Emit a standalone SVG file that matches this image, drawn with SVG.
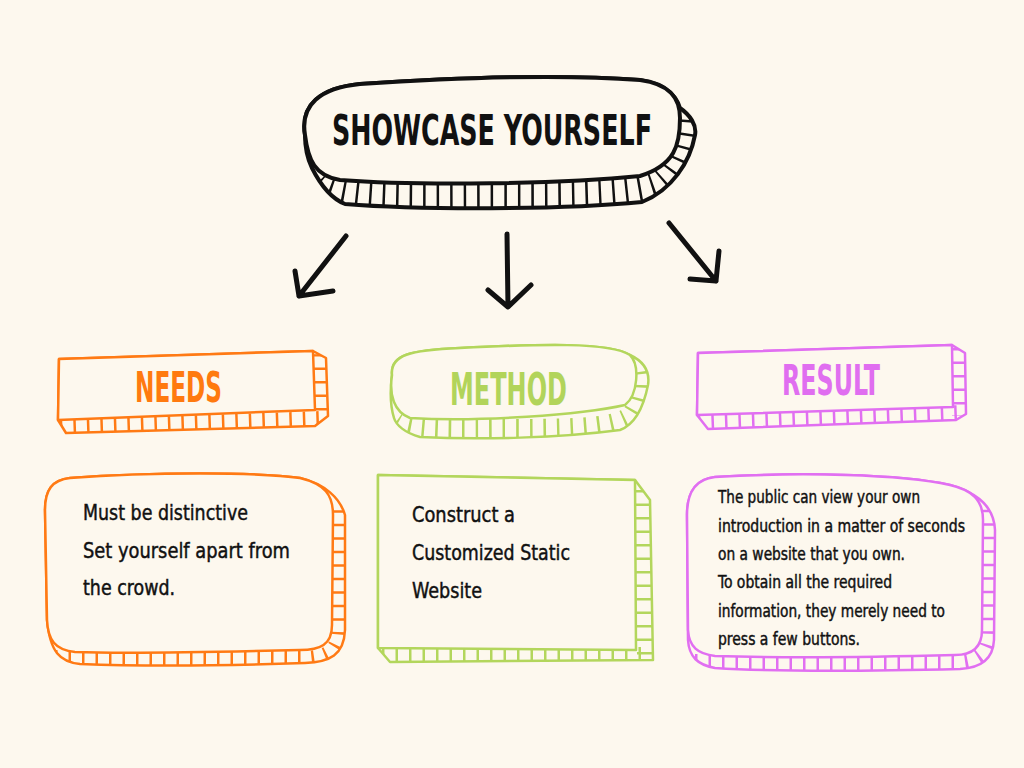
<svg xmlns="http://www.w3.org/2000/svg" width="1024" height="768" viewBox="0 0 1024 768">
<style>
.bg{fill:#fdf8ee}
.face{fill:#fdf8ee;stroke-linejoin:round;stroke-linecap:round}
.hatch{fill:none;stroke-dasharray:2.5 11}
.blk{stroke:#111}
.org{stroke:#ff7a14}
.grn{stroke:#b3d65c}
.mag{stroke:#e16ff1}
.title{font-family:"Liberation Sans Narrow","DejaVu Sans Condensed","Liberation Sans",sans-serif;font-stretch:condensed;font-weight:bold}
.body{font-family:"Liberation Sans Narrow","DejaVu Sans Condensed","Liberation Sans",sans-serif;font-stretch:condensed;fill:#111;stroke:#111;stroke-width:0.45}
.arrow{fill:none;stroke:#111;stroke-width:5;stroke-linecap:round;stroke-linejoin:round}
</style>
<defs>
<clipPath id="cTitle"><path d="M305,135 C300,105 320,88 360,84 C450,78 560,74 640,80 C665,84 676,95 680,108 C690,115 697,125 695,135 C690,162 672,190 642,202 C560,210 420,210 345,204 C330,198 320,184 312,168 C307,158 305,148 305,135 Z"/></clipPath>
<clipPath id="cNeedsH"><path d="M59,359 L313,351 L326,358 L328,416 L315,426 L66,433 L58,420 Z"/></clipPath>
<clipPath id="cMethodH"><path d="M392,375 C390,355 410,350 460,348 C540,344 610,342 630,355 C645,362 650,372 648,385 C644,405 636,424 620,430 C560,438 480,440 420,437 C405,433 396,425 394,418 C390,405 390,390 392,375 Z"/></clipPath>
<clipPath id="cResultH"><path d="M698,353 L952,345 L965,353 L966,414 L956,420 L708,429 L697,415 Z"/></clipPath>
<clipPath id="cNeedsB"><path d="M70,478 C150,472 260,472 300,478 C325,484 340,498 345,515 L345,630 C344,655 330,662 305,663 C220,666 130,666 80,664 C60,662 50,652 47,620 L45,510 C45,490 52,480 70,478 Z"/></clipPath>
<clipPath id="cMethodB"><path d="M378,475 L635,480 L650,500 L653,660 L390,662 L378,648 Z"/></clipPath>
<clipPath id="cResultB"><path d="M715,477 C800,472 900,474 950,485 C975,492 994,505 995,530 L994,640 C993,660 980,668 960,669 C880,671 780,672 715,668 C698,665 689,657 688,640 L687,515 C687,490 697,479 715,477 Z"/></clipPath>
</defs>
<rect class="bg" x="0" y="0" width="1024" height="768"/>

<g id="node-showcase">
  <path class="face blk" stroke-width="4" d="M305,135 C300,105 320,88 360,84 C450,78 560,74 640,80 C665,84 676,95 680,108 C690,115 697,125 695,135 C690,162 672,190 642,202 C560,210 420,210 345,204 C330,198 320,184 312,168 C307,158 305,148 305,135 Z"/>
  <path class="hatch blk" clip-path="url(#cTitle)" stroke-width="34" stroke-dasharray="3 15" d="M318,182 C335,200 400,197 500,197 C580,197 640,197 660,186 C680,172 688,150 690,118"/>
  <path class="face blk" stroke-width="4" d="M305,135 C300,105 320,88 360,84 C450,78 560,74 640,80 C670,84 680,98 680,118 C680,145 675,165 640,176 C560,184 420,186 340,180 C315,176 308,160 305,135 Z"/>
  <text class="title" x="332" y="145" font-size="42" textLength="320" lengthAdjust="spacingAndGlyphs" fill="#111">SHOWCASE YOURSELF</text>
</g>

<g id="connectors">
  <path class="arrow" d="M346,236 L299,296 M295,271 L299,296 L333,291"/>
  <path class="arrow" d="M507,234 L508,307 M488,290 L508,307 L531,285"/>
  <path class="arrow" d="M669,223 L716,281 M690,279 L716,281 L719,251"/>
</g>

<g id="node-needs">
  <path class="face org" stroke-width="2.5" d="M59,359 L313,351 L326,358 L328,416 L315,426 L66,433 L58,420 Z"/>
  <path class="hatch org" clip-path="url(#cNeedsH)" stroke-width="16" d="M60,428 L322,419 M320,354 L321,418"/>
  <path class="face org" stroke-width="2.5" d="M59,359 L313,351 L315,410 L58,420 Z"/>
  <text class="title" x="135" y="402" font-size="42" textLength="87" lengthAdjust="spacingAndGlyphs" fill="#ff7a0f">NEEDS</text>
</g>

<g id="node-method">
  <path class="face grn" stroke-width="2.5" d="M392,375 C390,355 410,350 460,348 C540,344 610,342 630,355 C645,362 650,372 648,385 C644,405 636,424 620,430 C560,438 480,440 420,437 C405,433 396,425 394,418 C390,405 390,390 392,375 Z"/>
  <path class="hatch grn" clip-path="url(#cMethodH)" stroke-width="22" d="M396,422 C410,432 450,430 520,430 C580,430 620,428 632,416 C642,402 644,385 640,365"/>
  <path class="face grn" stroke-width="2.5" d="M392,375 C390,355 410,350 460,348 C540,344 610,342 630,355 C640,365 638,395 625,405 C580,415 480,422 410,418 C394,412 389,395 392,375 Z"/>
  <text class="title" x="450" y="405" font-size="44" textLength="117" lengthAdjust="spacingAndGlyphs" fill="#b2d45a">METHOD</text>
</g>

<g id="node-result">
  <path class="face mag" stroke-width="2.5" d="M698,353 L952,345 L965,353 L966,414 L956,420 L708,429 L697,415 Z"/>
  <path class="hatch mag" clip-path="url(#cResultH)" stroke-width="16" d="M698,423 L962,413 M959,348 L960,416"/>
  <path class="face mag" stroke-width="2.5" d="M698,353 L952,345 L953,407 L697,415 Z"/>
  <text class="title" x="782" y="395" font-size="42" textLength="98" lengthAdjust="spacingAndGlyphs" fill="#e06ef0">RESULT</text>
</g>

<g id="node-needs-detail">
  <path class="face org" stroke-width="2.5" d="M70,478 C150,472 260,472 300,478 C325,484 340,498 345,515 L345,630 C344,655 330,662 305,663 C220,666 130,666 80,664 C60,662 50,652 47,620 L45,510 C45,490 52,480 70,478 Z"/>
  <path class="hatch org" clip-path="url(#cNeedsB)" stroke-width="16" d="M55,658 L300,659 C330,659 339,650 339,630 L339,500"/>
  <path class="face org" stroke-width="2.5" d="M70,478 C150,472 260,472 300,478 C325,484 333,495 333,515 L332,625 C332,645 320,650 300,650 C220,652 130,654 75,652 C55,650 48,640 47,620 L45,510 C45,490 52,480 70,478 Z"/>
  <text class="body" font-size="22" x="83" y="520" textLength="165" lengthAdjust="spacingAndGlyphs">Must be distinctive</text>
  <text class="body" font-size="22" x="83" y="558" textLength="207" lengthAdjust="spacingAndGlyphs">Set yourself apart from</text>
  <text class="body" font-size="22" x="83" y="595" textLength="92" lengthAdjust="spacingAndGlyphs">the crowd.</text>
</g>

<g id="node-method-detail">
  <path class="face grn" stroke-width="2.5" d="M378,475 L635,480 L650,500 L653,660 L390,662 L378,648 Z"/>
  <path class="hatch grn" clip-path="url(#cMethodB)" stroke-width="16" d="M382,656 L648,655 M643,490 L645,656"/>
  <path class="face grn" stroke-width="2.5" d="M378,475 L635,480 L636,650 L378,648 Z"/>
  <text class="body" font-size="22" x="412" y="522" textLength="103" lengthAdjust="spacingAndGlyphs">Construct a</text>
  <text class="body" font-size="22" x="412" y="560" textLength="158" lengthAdjust="spacingAndGlyphs">Customized Static</text>
  <text class="body" font-size="22" x="412" y="598" textLength="70" lengthAdjust="spacingAndGlyphs">Website</text>
</g>

<g id="node-result-detail">
  <path class="face mag" stroke-width="2.5" d="M715,477 C800,472 900,474 950,485 C975,492 994,505 995,530 L994,640 C993,660 980,668 960,669 C880,671 780,672 715,668 C698,665 689,657 688,640 L687,515 C687,490 697,479 715,477 Z"/>
  <path class="hatch mag" clip-path="url(#cResultB)" stroke-width="16" d="M695,662 L955,662 C982,662 989,650 989,630 L989,500"/>
  <path class="face mag" stroke-width="2.5" d="M715,477 C800,472 900,474 950,485 C972,490 983,500 983,520 L982,630 C982,648 972,655 955,655 C880,657 780,658 715,656 C698,654 689,647 688,630 L687,515 C687,490 697,479 715,477 Z"/>
  <text class="body" font-size="18" x="718" y="503" textLength="202" lengthAdjust="spacingAndGlyphs">The public can view your own</text>
  <text class="body" font-size="18" x="718" y="532" textLength="247" lengthAdjust="spacingAndGlyphs">introduction in a matter of seconds</text>
  <text class="body" font-size="18" x="718" y="560" textLength="187" lengthAdjust="spacingAndGlyphs">on a website that you own.</text>
  <text class="body" font-size="18" x="718" y="588" textLength="174" lengthAdjust="spacingAndGlyphs">To obtain all the required</text>
  <text class="body" font-size="18" x="718" y="617" textLength="227" lengthAdjust="spacingAndGlyphs">information, they merely need to</text>
  <text class="body" font-size="18" x="718" y="645" textLength="142" lengthAdjust="spacingAndGlyphs">press a few buttons.</text>
</g>
</svg>
